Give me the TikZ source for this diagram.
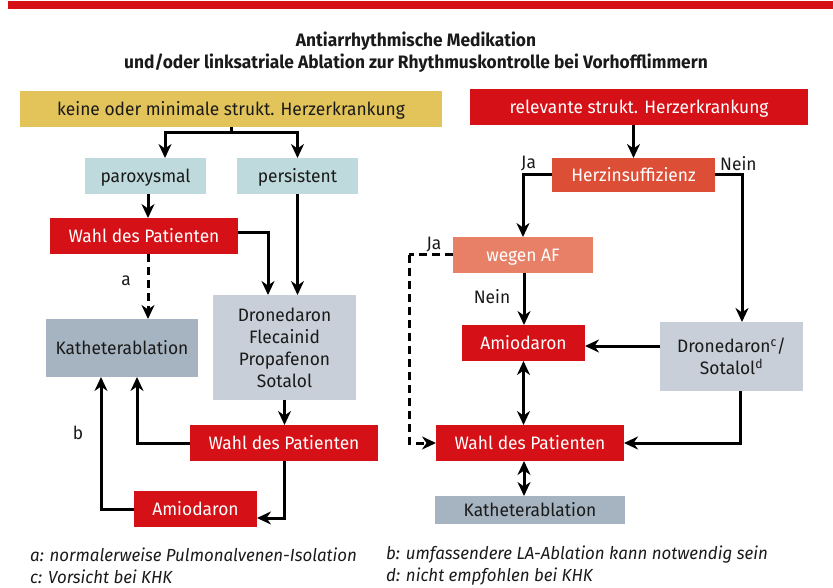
\documentclass[tikz,border=0pt]{standalone}
\usepackage{fontspec}
\setmainfont{Fira Sans}[FakeStretch=0.965]
\usetikzlibrary{arrows.meta}
\definecolor{cred}{HTML}{D51016}
\definecolor{cyel}{HTML}{E2C45A}
\definecolor{cherz}{HTML}{DD4E37}
\definecolor{cwegen}{HTML}{E88068}
\definecolor{cblue}{HTML}{BFDADC}
\definecolor{ckath}{HTML}{A6B3C0}
\definecolor{cdron}{HTML}{C8CFD8}
\definecolor{ctext}{HTML}{1A1A1A}
\tikzset{
  box/.style={inner sep=0pt, outer sep=0pt, align=center, font=\fontsize{18}{22}\selectfont, text=ctext},
  one/.style={box, text height=12.5pt, text depth=0pt},
  redbox/.style={one, fill=cred, text=white},
  arr/.style={line width=3pt, -{Stealth[length=14pt,width=13pt,inset=4.5pt]}},
  darr/.style={line width=3pt, {Stealth[length=14pt,width=13pt,inset=4.5pt]}-{Stealth[length=14pt,width=13pt,inset=4.5pt]}},
  ln/.style={line width=3pt},
  dsh/.style={line width=3pt, dash pattern=on 8pt off 5pt},
  lbl/.style={inner sep=0pt, font=\fontsize{18}{22}\selectfont, text=ctext},
  foot/.style={inner sep=0pt, anchor=west, font=\fontsize{17.5}{21}\selectfont\itshape, text=ctext}
}
\begin{document}
\begin{tikzpicture}[x=1pt,y=-1pt]
\useasboundingbox (0,0) rectangle (833,588);
\fill[cred] (8,1) rectangle (833,9);
\node[inner sep=0pt, align=center, font=\fontsize{18}{22}\selectfont\bfseries, text=ctext] (title) at (416,52)
  {Antiarrhythmische Medikation\\und/oder linksatriale Ablation zur Rhythmuskontrolle bei Vorhofflimmern};

% left side
\node[one, fill=cyel, minimum width=422pt, minimum height=36pt] (yel) at (231,109) {keine oder minimale strukt. Herzerkrankung};
\node[one, fill=cblue, minimum width=121pt, minimum height=36pt] (par) at (145.5,176) {paroxysmal};
\node[one, fill=cblue, minimum width=121pt, minimum height=36pt] (pers) at (297.5,176) {persistent};
\node[redbox, minimum width=188pt, minimum height=36pt] (wahl1) at (144,236) {Wahl des Patienten};
\node[box, fill=cdron, minimum width=143pt, minimum height=105pt] (dron) at (284.5,347.5) {Dronedaron\\Flecainid\\Propafenon\\Sotalol};
\node[one, fill=ckath, minimum width=152pt, minimum height=58pt] (kath1) at (122,348) {Katheterablation};
\node[redbox, minimum width=188pt, minimum height=36pt] (wahl2) at (284,443) {Wahl des Patienten};
\node[redbox, minimum width=123pt, minimum height=36pt] (amio1) at (195.5,509) {Amiodaron};

% right side
\node[redbox, minimum width=338pt, minimum height=36pt] (rel) at (639,107) {relevante strukt. Herzerkrankung};
\node[one, fill=cherz, text=white, minimum width=163pt, minimum height=34pt] (herz) at (633.5,175) {Herzinsuffizienz};
\node[one, fill=cwegen, text=white, minimum width=140pt, minimum height=36pt] (wegen) at (523,255) {wegen AF};
\node[redbox, minimum width=123pt, minimum height=36pt] (amio2) at (523.5,343) {Amiodaron};
\node[box, fill=cdron, minimum width=143pt, minimum height=69pt] (dron2) at (731.5,356.5) {Dronedaron\textsuperscript{c}/\\Sotalol\textsuperscript{d}};
\node[redbox, minimum width=188pt, minimum height=36pt] (wahl3) at (530,443) {Wahl des Patienten};
\node[one, fill=ckath, minimum width=190pt, minimum height=28pt] (kath2) at (530,510) {Katheterablation};

% left connectors
\draw[ln] (yel.south) -- ++(0,6) coordinate (br);
\draw[arr] (br) -| ([xshift=19.5pt]par.north);
\draw[arr] (br) -| (pers.north);
\draw[arr] ([xshift=2.5pt]par.south) -- ([xshift=2.5pt]par.south |- wahl1.north);
\draw[arr] ([yshift=3pt]wahl1.east) -| ([xshift=-16.5pt]dron.north);
\draw[arr] (pers.south) -- (pers.south |- dron.north);
\draw[dsh, -{Stealth[length=14pt,width=13pt,inset=4.5pt]}] ([xshift=4pt]wahl1.south) -- ([xshift=4pt]wahl1.south |- kath1.north);
\node[lbl] (la) at (126,281) {a};
\draw[arr] (dron.south) -- (dron.south |- wahl2.north);
\draw[arr] (wahl2.west) -| ([xshift=15pt]kath1.south);
\draw[arr] (wahl2.south) |- ([yshift=-9pt]amio1.east);
\draw[arr] (amio1.west) -| ([xshift=-21pt]kath1.south);
\node[lbl] (lb) at (78,433) {b};

% right connectors
\draw[arr] (herz.north |- rel.south) -- (herz.north);
\draw[arr] (herz.west) -| (wegen.north);
\node[lbl, anchor=south west] (lja) at (521,171) {Ja};
\draw[arr] (herz.east) -| ([xshift=10.5pt]dron2.north);
\node[lbl, anchor=south west] (lnein) at (720,171) {Nein};
\draw[dsh] (wegen.west) -- (409,255) coordinate (dc);
\draw[dsh, -{Stealth[length=14pt,width=13pt,inset=4.5pt]}] (dc) |- (wahl3.west);
\node[lbl] (lja2) at (434,245) {Ja};
\draw[arr] ([xshift=1pt]wegen.south) -- ([xshift=1pt]wegen.south |- amio2.north);
\node[lbl] (lnein2) at (492,297) {Nein};
\draw[arr] ([yshift=-3pt]amio2.east -| dron2.west) -- ([yshift=-3pt]amio2.east);
\draw[darr] (amio2.south) -- (amio2.south |- wahl3.north);
\draw[arr] ([xshift=8.5pt]dron2.south) |- (wahl3.east);
\draw[darr] ([xshift=-6pt]wahl3.south) -- ([xshift=-6pt]wahl3.south |- kath2.north);

% footnotes
\node[foot] (fa) at (30,555) {a: normalerweise Pulmonalvenen-Isolation};
\node[foot] (fb) at (386,555) {b: umfassendere LA-Ablation kann notwendig sein};
\node[foot] (fc) at (30,577) {c: Vorsicht bei KHK};
\node[foot] (fd) at (386,577) {d: nicht empfohlen bei KHK};
\end{tikzpicture}
\end{document}
